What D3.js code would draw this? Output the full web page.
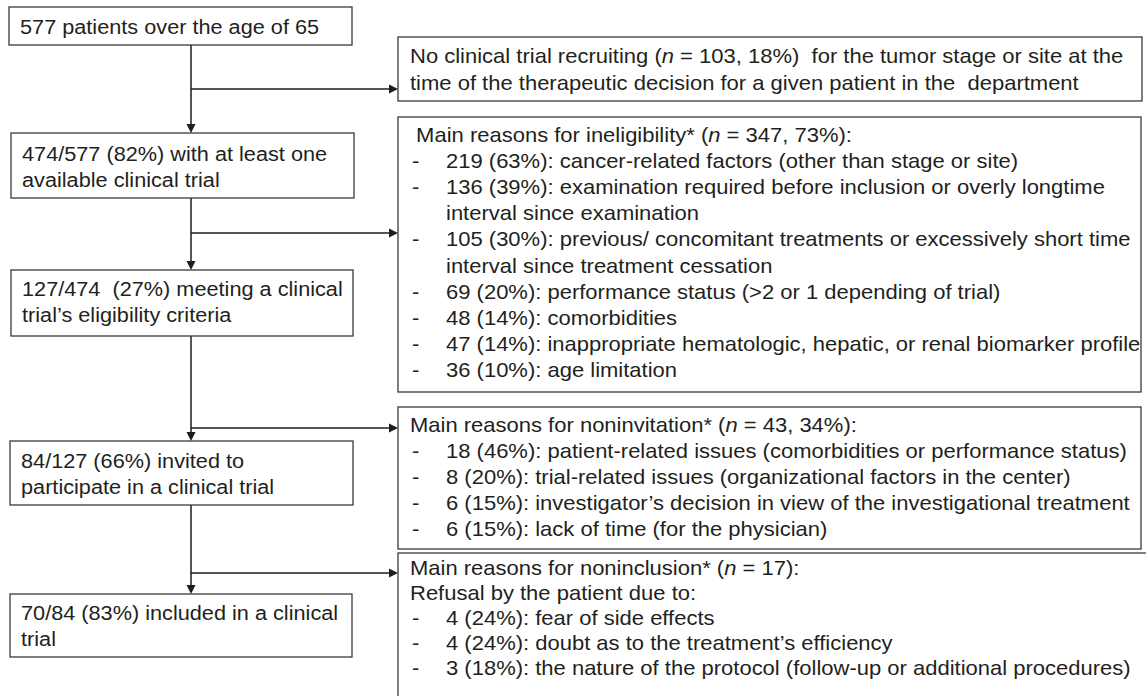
<!DOCTYPE html>
<meta charset="utf-8">
<script src="https://d3js.org/d3.v7.min.js"></script>
<style>
  body { margin: 0; background: #fff; }
  text { font-family: "Liberation Sans", Arial, sans-serif; font-size: 20px; fill: #231f20; white-space: pre; }
</style>
<div id="my_dataviz"></div>
<script>

// main flow (left column)
var stageLines = [
  ["577 patients over the age of 65"],
  ["474/577 (82%) with at least one", "available clinical trial"],
  ["127/474  (27%) meeting a clinical", "trial\u2019s eligibility criteria"],
  ["84/127 (66%) invited to", "participate in a clinical trial"],
  ["70/84 (83%) included in a clinical", "trial"]
];

// side boxes (right column)
var noTrialLines = [
  "No clinical trial recruiting (n = 103, 18%)  for the tumor stage or site at the",
  "time of the therapeutic decision for a given patient in the  department"
];

var ineligibilityHeader = " Main reasons for ineligibility* (n = 347, 73%):";
var ineligibilityCounts = [219, 136, 105, 69, 48, 47, 36];
var ineligibilityPct = [63, 39, 30, 20, 14, 14, 10];
var ineligibilityReasons = [
  "cancer-related factors (other than stage or site)",
  "examination required before inclusion or overly longtime\ninterval since examination",
  "previous/ concomitant treatments or excessively short time\ninterval since treatment cessation",
  "performance status (>2 or 1 depending of trial)",
  "comorbidities",
  "inappropriate hematologic, hepatic, or renal biomarker profile",
  "age limitation"
];

var noninvitationHeader = "Main reasons for noninvitation* (n = 43, 34%):";
var noninvitationCounts = [18, 8, 6, 6];
var noninvitationPct = [46, 20, 15, 15];
var noninvitationReasons = [
  "patient-related issues (comorbidities or performance status)",
  "trial-related issues (organizational factors in the center)",
  "investigator\u2019s decision in view of the investigational treatment",
  "lack of time (for the physician)"
];

var noninclusionHeader = ["Main reasons for noninclusion* (n = 17):", "Refusal by the patient due to:"];
var noninclusionCounts = [4, 4, 3];
var noninclusionPct = [24, 24, 18];
var noninclusionReasons = [
  "fear of side effects",
  "doubt as to the treatment\u2019s efficiency",
  "the nature of the protocol (follow-up or additional procedures)"
];

// layout
var width = 1146, height = 696;
var stageBoxes = [
  {x: 9,  y: 7,   w: 343, h: 38, base: 34},
  {x: 11, y: 133, w: 343, h: 65, base: 161},
  {x: 11, y: 270, w: 342, h: 66, base: 296},
  {x: 10, y: 441, w: 343, h: 64, base: 468},
  {x: 10, y: 594, w: 342, h: 63, base: 620}
];
var sideBoxes = [
  {y: 37,  h: 64,  w: 744, base: 63,  step: 27},
  {y: 117, h: 275, w: 743, base: 142, step: 26.1},
  {y: 407, h: 142, w: 743, base: 432, step: 26},
  {y: 553, h: 200, w: 800, base: 575, step: 25}
];
var sideX = 398, flowX = 191;
var branchY = [89, 233, 428, 573];
var leftScale = 1.085, rightScale = 1.1;

function itemRows(counts, pct, reasons) {
  var rows = [];
  reasons.forEach(function(r, i) {
    r.split("\n").forEach(function(part, j) {
      rows.push({dash: j === 0, text: j === 0 ? counts[i] + " (" + pct[i] + "%): " + part : part});
    });
  });
  return rows;
}

var sideRows = [
  noTrialLines.map(function(t) { return {head: true, text: t}; }),
  [{head: true, text: ineligibilityHeader}].concat(itemRows(ineligibilityCounts, ineligibilityPct, ineligibilityReasons)),
  [{head: true, text: noninvitationHeader}].concat(itemRows(noninvitationCounts, noninvitationPct, noninvitationReasons)),
  noninclusionHeader.map(function(t) { return {head: true, text: t}; })
    .concat(itemRows(noninclusionCounts, noninclusionPct, noninclusionReasons))
];

var svg = d3.select("#my_dataviz")
  .append("svg")
    .attr("width", width)
    .attr("height", height);

svg.append("rect").attr("width", width).attr("height", height).attr("fill", "#fff");

// text line with italic "n"
function addLine(g, x, y, s, str) {
  var t = g.append("text").attr("transform", "translate(" + x + "," + y + ") scale(" + s + ",1)");
  str.split(/(\bn(?= = ))/).forEach(function(part) {
    if (!part) return;
    t.append("tspan").style("font-style", part === "n" ? "italic" : null).text(part);
  });
}

// connectors
var lineCol = "#1d1d1d";
var conn = svg.append("g").attr("stroke", lineCol).attr("stroke-width", 1.5).attr("fill", "none");
var heads = svg.append("g").attr("fill", lineCol);

stageBoxes.slice(1).forEach(function(b, i) {
  var prev = stageBoxes[i];
  conn.append("line")
    .attr("x1", flowX).attr("x2", flowX)
    .attr("y1", prev.y + prev.h).attr("y2", b.y - 7);
  heads.append("path")
    .attr("d", "M" + (flowX - 4.5) + "," + (b.y - 9) + "L" + (flowX + 4.5) + "," + (b.y - 9) + "L" + flowX + "," + b.y + "Z");
});

branchY.forEach(function(y) {
  conn.append("line")
    .attr("x1", flowX).attr("x2", sideX - 7)
    .attr("y1", y).attr("y2", y);
  heads.append("path")
    .attr("d", "M" + (sideX - 9) + "," + (y - 4.5) + "L" + (sideX - 9) + "," + (y + 4.5) + "L" + sideX + "," + y + "Z");
});

// left boxes
var boxCol = "#3a3a3a";
var left = svg.append("g");
stageBoxes.forEach(function(b, i) {
  left.append("rect")
    .attr("x", b.x).attr("y", b.y).attr("width", b.w).attr("height", b.h)
    .attr("fill", "none").attr("stroke", boxCol).attr("stroke-width", 1.3);
  stageLines[i].forEach(function(t, j) {
    addLine(left, b.x + 11, b.base + j * 25.5, leftScale, t);
  });
});

// right boxes
var right = svg.append("g");
sideBoxes.forEach(function(b, i) {
  right.append("rect")
    .attr("x", sideX).attr("y", b.y).attr("width", b.w).attr("height", b.h)
    .attr("fill", "none").attr("stroke", boxCol).attr("stroke-width", 1.3);
  sideRows[i].forEach(function(r, j) {
    var y = b.base + j * b.step;
    if (r.head) {
      addLine(right, sideX + 12, y, rightScale, r.text);
    } else {
      if (r.dash) addLine(right, sideX + 14, y, rightScale, "-");
      addLine(right, sideX + 48, y, rightScale, r.text);
    }
  });
});

</script>
